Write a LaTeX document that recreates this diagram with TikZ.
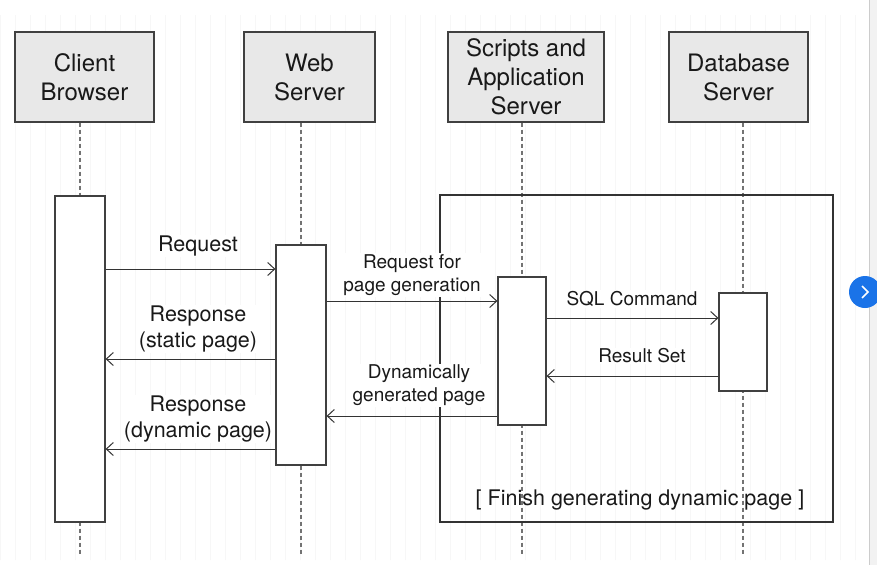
\documentclass[tikz,border=0pt]{standalone}
\usepackage{fontspec}
\setmainfont{TeX Gyre Heros}
\usetikzlibrary{arrows.meta}
\definecolor{btnblue}{RGB}{26,115,232}

\begin{document}
\begin{tikzpicture}[x=1pt,y=-1pt,
    head/.style={draw=black!75,fill=black!9,line width=1.2pt,minimum height=90pt,
      inner sep=0pt,align=center,text=black!90,font=\fontsize{24}{29}\selectfont},
    act/.style={draw=black!75,fill=white,line width=1.2pt,minimum width=50pt,inner sep=0pt},
    life/.style={draw=black!55,line width=1.1pt,dash pattern=on 4pt off 3pt},
    msg/.style={draw=black!80,line width=1pt,-{Straight Barb[length=7pt,width=13pt]}},
    lbl/.style={fill=white,inner sep=1pt,align=center,text=black!90},
    big/.style={font=\fontsize{21.5}{26}\selectfont},
    small/.style={font=\fontsize{19}{23}\selectfont}]
  \clip (0,0) rectangle (877,565);
  \fill[white] (0,0) rectangle (877,565);
  \draw[black!3,step=15] (0,15) grid (860,560);

  % lifeline heads
  \node[head,minimum width=139pt] (cb) at (84.5,77) {Client\\Browser};
  \node[head,minimum width=131pt] (ws) at (309.5,77) {Web\\Server};
  \node[head,minimum width=156pt] (sa) at (526,77) {Scripts and\\Application\\Server};
  \node[head,minimum width=139pt] (db) at (738.5,77) {Database\\Server};

  \foreach \x/\n in {80/cb,301/ws,522/sa,743/db}{
    \coordinate (\n e) at (\x,556);
    \draw[life] (\n.south -| \n e) -- (\n e);
  }

  % frame
  \node[draw=black!80,line width=1.2pt,minimum width=393pt,minimum height=327pt,inner sep=0pt] (frm) at (636.5,358.5) {};
  \node[big,text=black!90] (fin) at (640,500) {[ Finish generating dynamic page ]};

  % activations
  \node[act,minimum height=326pt] (ca) at (80,359) {};
  \node[act,minimum height=220pt] (wa) at (301,355) {};
  \node[act,minimum width=48pt,minimum height=148pt] (sx) at (522,351) {};
  \node[act,minimum width=48pt,minimum height=98pt] (dx) at (743,342) {};

  % messages
  \draw[msg] (ca.east |- 0,269) -- (wa.west |- 0,269);
  \draw[msg] (wa.east |- 0,301) -- (sx.west |- 0,301);
  \draw[msg] (sx.east |- 0,318) -- (dx.west |- 0,318);
  \draw[msg] (dx.west |- 0,376) -- (sx.east |- 0,376);
  \draw[msg] (sx.west |- 0,416) -- (wa.east |- 0,416);
  \draw[msg] (wa.west |- 0,359) -- (ca.east |- 0,359);
  \draw[msg] (wa.west |- 0,449) -- (ca.east |- 0,449);

  \node[lbl,big] (req) at (198,246) {Request};
  \node[lbl,small] (rpg) at (412,275) {Request for\\page generation};
  \node[lbl,small] (sql) at (632,299) {SQL Command};
  \node[lbl,small] (rs) at (642,356) {Result Set};
  \node[lbl,small] (dgp) at (419,385.5) {Dynamically\\generated page};
  \node[lbl,big] (rsp) at (198,329) {Response\\(static page)};
  \node[lbl,big] (rdp) at (198,419) {Response\\(dynamic page)};

  % page edge
  \fill[black!5] (869,0) rectangle (877,565);
  \draw[black!20] (869,0) -- (869,565);
  \fill[btnblue] (865,292) circle (16);
  \draw[white,line width=1.6pt] (862,286) -- (868,292) -- (862,298);
\end{tikzpicture}
\end{document}
